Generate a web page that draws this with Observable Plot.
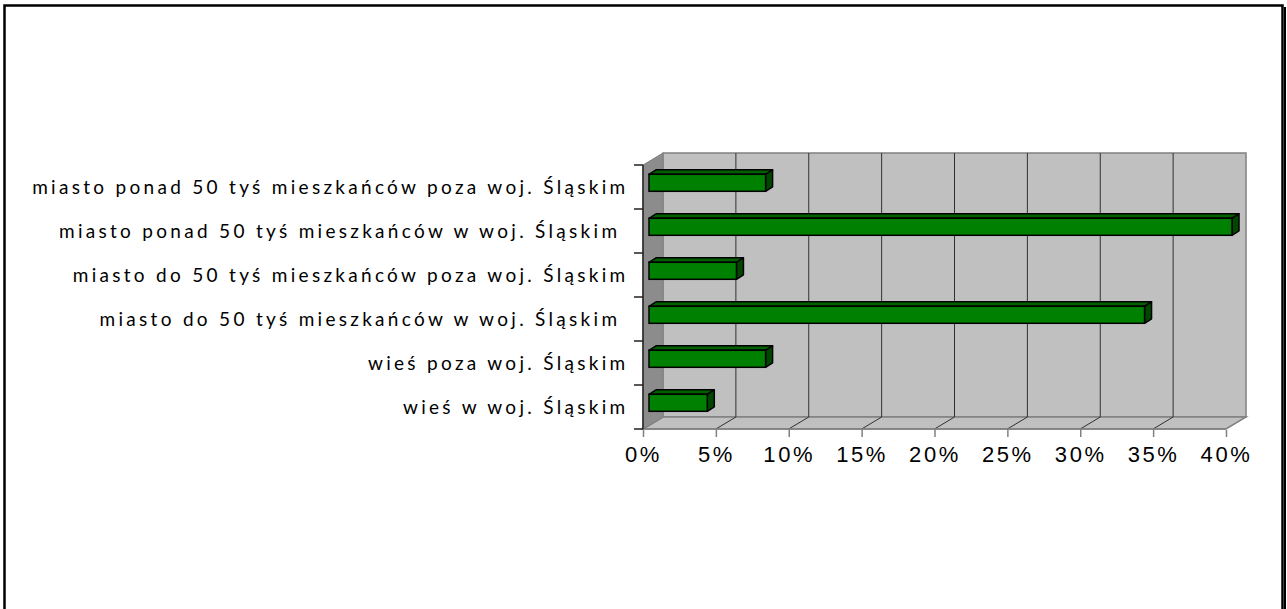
<!DOCTYPE html>
<html><head><meta charset="utf-8">
<script src="https://cdn.jsdelivr.net/npm/d3@7"></script>
<script src="https://cdn.jsdelivr.net/npm/@observablehq/plot@0.6"></script>
<style>
body{margin:0;background:#fff}
#chart svg{overflow:visible}
#chart text{white-space:pre}
#chart [aria-label="y-axis tick label"] text{font-family:Lato,"Open Sans",sans-serif;letter-spacing:3.3px}
#chart [aria-label="x-axis tick label"] text{font-family:"Liberation Sans",Arial,sans-serif;letter-spacing:2.6px}
</style></head><body><div id="chart"></div>
<script>
const categories = [
  "miasto ponad 50 tyś mieszkańców poza woj. Śląskim",
  "miasto ponad 50 tyś mieszkańców w woj. Śląskim ",
  "miasto do 50 tyś mieszkańców poza woj. Śląskim",
  "miasto do 50 tyś mieszkańców w woj. Śląskim ",
  "wieś poza woj. Śląskim",
  "wieś w woj. Śląskim"
];
const values = [8, 40, 6, 34, 8, 4];
const xTicks = [0, 5, 10, 15, 20, 25, 30, 35, 40];
const data = categories.map((c, i) => ({category: c, value: values[i]}));

const DX = 20, DY = -12;      // depth of the plot box
const BDX = 7, BDY = -4.5;    // depth of each bar
const BOFF = 6;               // bar front face shift into depth
const INSET_TOP = 9.3, INSET_BOTTOM = 17.7;

function walls(index, {x, y}) {
  const g = d3.create("svg:g");
  const x0 = x(0), x1 = x(xTicks[xTicks.length - 1]);
  const yT = y(categories[0]), yB = y(categories[categories.length - 1]) + y.bandwidth();
  // outer frame
  g.append("rect").attr("x", 4.5).attr("y", 5.5).attr("width", 1278).attr("height", 700)
    .attr("fill", "none").attr("stroke", "#000").attr("stroke-width", 2.5);
  g.append("line").attr("x1", 1285).attr("x2", 1285).attr("y1", 7).attr("y2", 700)
    .attr("stroke", "#000").attr("stroke-width", 2);
  // back wall
  g.append("rect").attr("x", x0 + DX).attr("y", yT + DY).attr("width", x1 - x0).attr("height", yB - yT)
    .attr("fill", "#c0c0c0").attr("stroke", "#808080").attr("stroke-width", 1.5);
  // floor
  g.append("path").attr("d", `M${x0},${yB}L${x0 + DX},${yB + DY}L${x1 + DX},${yB + DY}L${x1},${yB}Z`)
    .attr("fill", "#c0c0c0").attr("stroke", "#808080").attr("stroke-width", 1.5);
  // grid lines
  for (const t of xTicks.slice(1, -1)) {
    g.append("line").attr("x1", x(t) + DX).attr("x2", x(t) + DX).attr("y1", yT + DY).attr("y2", yB + DY)
      .attr("stroke", "#303030").attr("stroke-width", 1);
    g.append("line").attr("x1", x(t)).attr("x2", x(t) + DX).attr("y1", yB).attr("y2", yB + DY)
      .attr("stroke", "#303030").attr("stroke-width", 1);
  }
  // side wall
  g.append("path").attr("d", `M${x0},${yT}L${x0 + DX},${yT + DY}L${x0 + DX},${yB + DY}L${x0},${yB}Z`)
    .attr("fill", "#8c8c8c").attr("stroke", "#808080").attr("stroke-width", 1);
  // front bottom edge
  g.append("line").attr("x1", x0).attr("x2", x1).attr("y1", yB).attr("y2", yB)
    .attr("stroke", "#808080").attr("stroke-width", 1.5);
  // left axis line
  g.append("line").attr("x1", x0).attr("x2", x0).attr("y1", yT).attr("y2", yB)
    .attr("stroke", "#202020").attr("stroke-width", 1.5);
  // band boundary ticks
  const bounds = categories.map(c => y(c)).concat([yB]);
  for (const b of bounds) {
    g.append("line").attr("x1", x0 - 9).attr("x2", x0).attr("y1", b).attr("y2", b)
      .attr("stroke", "#202020").attr("stroke-width", 1.5);
  }
  return g.node();
}

function barSides(index, {x, y}) {
  const g = d3.create("svg:g");
  for (const d of data) {
    const xl = x(0) + BOFF, xr = x(d.value) + BOFF;
    const top = y(d.category) + INSET_TOP, bot = y(d.category) + y.bandwidth() - INSET_BOTTOM;
    g.append("path").attr("d", `M${xl},${top}L${xl + BDX},${top + BDY}L${xr + BDX},${top + BDY}L${xr},${top}Z`)
      .attr("fill", "#006000").attr("stroke", "#000").attr("stroke-width", 1.5).attr("stroke-linejoin", "round");
    g.append("path").attr("d", `M${xr},${top}L${xr + BDX},${top + BDY}L${xr + BDX},${bot + BDY}L${xr},${bot}Z`)
      .attr("fill", "#004800").attr("stroke", "#000").attr("stroke-width", 1.5).attr("stroke-linejoin", "round");
  }
  return g.node();
}

const chart = Plot.plot({
  width: 1287,
  height: 609,
  marginLeft: 643,
  marginRight: 61,
  marginTop: 163,
  marginBottom: 179,
  style: {background: "#fff", overflow: "visible"},
  x: {domain: [0, 40], ticks: xTicks, tickFormat: d => d + "%"},
  y: {domain: categories, padding: 0},
  marks: [
    walls,
    barSides,
    Plot.barX(data, {
      x: "value", y: "category", dx: BOFF,
      insetTop: INSET_TOP, insetBottom: INSET_BOTTOM,
      fill: "#008000", stroke: "#000", strokeWidth: 1.5
    }),
    Plot.axisX({ticks: xTicks, tickFormat: d => d + "%", tickSize: 7, tickPadding: 9,
      stroke: "#808080", strokeWidth: 1.5, fontSize: 22, fill: "#000", label: null}),
    Plot.axisY({tickSize: 0, tickPadding: 15, fontSize: 19, fill: "#000", label: null})
  ]
});
document.getElementById("chart").appendChild(chart);
</script>
</body></html>
